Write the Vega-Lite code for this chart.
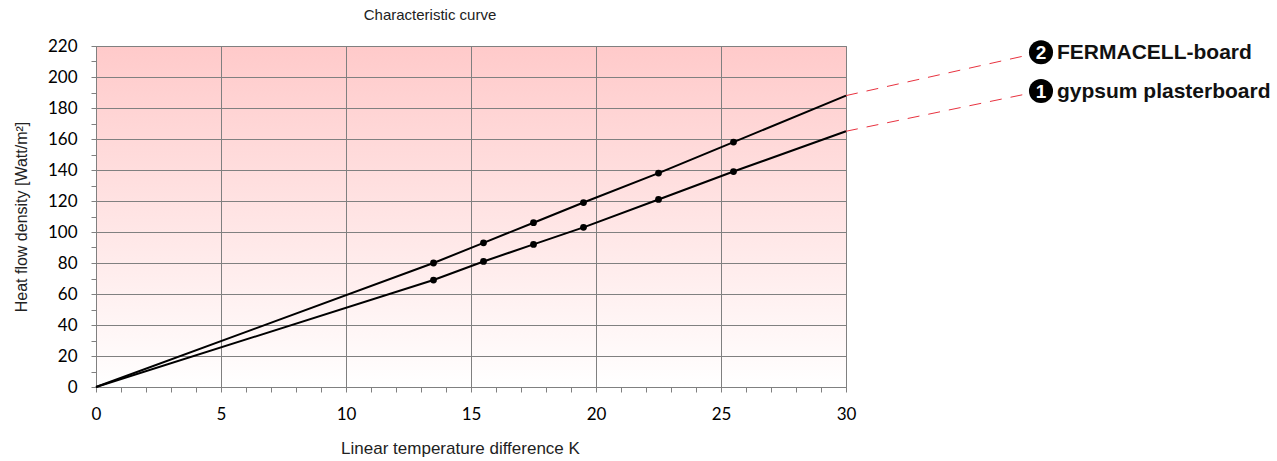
{
  "$schema": "https://vega.github.io/schema/vega-lite/v6.json",
  "width": 750,
  "height": 341,
  "autosize": "none",
  "padding": {"left": 96, "top": 46, "right": 431, "bottom": 74},
  "background": "white",
  "title": {
    "text": "Characteristic curve",
    "frame": "group",
    "anchor": "middle",
    "dx": -41,
    "offset": 14,
    "font": "Liberation Sans Narrow, sans-serif",
    "fontSize": 15,
    "fontWeight": "normal",
    "color": "#222222"
  },
  "config": {
    "view": {
      "stroke": "#808080",
      "strokeWidth": 1,
      "fill": {
        "gradient": "linear",
        "x1": 0, "y1": 0, "x2": 0, "y2": 1,
        "stops": [
          {"offset": 0, "color": "#ffcaca"},
          {"offset": 1, "color": "#ffffff"}
        ]
      }
    },
    "axis": {
      "domainColor": "#808080",
      "tickColor": "#808080",
      "gridColor": "#808080",
      "gridWidth": 1,
      "labelFont": "Lato",
      "labelFontSize": 17,
      "labelColor": "#000000",
      "labelOverlap": false,
      "labelBound": false,
      "labelFlush": false,
      "titleFont": "Liberation Sans Narrow, sans-serif",
      "titleFontSize": 16,
      "titleFontWeight": "normal",
      "titleColor": "#222222"
    }
  },
  "datasets": {
    "curves": [
      {"series": "2", "x": 0, "y": 0, "measured": false},
      {"series": "2", "x": 13.5, "y": 80, "measured": true},
      {"series": "2", "x": 15.5, "y": 93, "measured": true},
      {"series": "2", "x": 17.5, "y": 106, "measured": true},
      {"series": "2", "x": 19.5, "y": 119, "measured": true},
      {"series": "2", "x": 22.5, "y": 138, "measured": true},
      {"series": "2", "x": 25.5, "y": 158, "measured": true},
      {"series": "2", "x": 30, "y": 188, "measured": false},
      {"series": "1", "x": 0, "y": 0, "measured": false},
      {"series": "1", "x": 13.5, "y": 69, "measured": true},
      {"series": "1", "x": 15.5, "y": 81, "measured": true},
      {"series": "1", "x": 17.5, "y": 92, "measured": true},
      {"series": "1", "x": 19.5, "y": 103, "measured": true},
      {"series": "1", "x": 22.5, "y": 121, "measured": true},
      {"series": "1", "x": 25.5, "y": 139, "measured": true},
      {"series": "1", "x": 30, "y": 165, "measured": false}
    ],
    "leaders": [
      {"series": "2", "x": 30, "y": 188},
      {"series": "2", "x": 37.8, "y": 216},
      {"series": "1", "x": 30, "y": 165},
      {"series": "1", "x": 37.8, "y": 191}
    ],
    "labels": [
      {"num": "2", "label": "FERMACELL-board", "x": 37.8, "y": 216},
      {"num": "1", "label": "gypsum plasterboard", "x": 37.8, "y": 191}
    ]
  },
  "encoding": {
    "x": {
      "field": "x",
      "type": "quantitative",
      "scale": {"domain": [0, 30], "nice": false, "zero": false},
      "axis": {
        "title": "Linear temperature difference K",
        "values": [0,1,2,3,4,5,6,7,8,9,10,11,12,13,14,15,16,17,18,19,20,21,22,23,24,25,26,27,28,29,30],
        "labelExpr": "datum.value % 5 === 0 ? datum.label : ''",
        "gridOpacity": {"condition": {"test": "datum.value % 5 === 0", "value": 1}, "value": 0},
        "tickSize": 5,
        "labelPadding": 14,
        "titlePadding": 18,
        "titleFontSize": 17,
        "titleX": 364
      }
    },
    "y": {
      "field": "y",
      "type": "quantitative",
      "scale": {"domain": [0, 220], "nice": false, "zero": false},
      "axis": {
        "title": "Heat flow density [Watt/m²]",
        "values": [0,10,20,30,40,50,60,70,80,90,100,110,120,130,140,150,160,170,180,190,200,210,220],
        "labelExpr": "datum.value % 20 === 0 ? datum.label : ''",
        "gridOpacity": {"condition": {"test": "datum.value % 20 === 0", "value": 1}, "value": 0},
        "tickSize": 5,
        "labelPadding": 14,
        "titlePadding": 18
      }
    }
  },
  "layer": [
    {
      "data": {"name": "curves"},
      "mark": {"type": "line", "color": "#000000", "strokeWidth": 2},
      "encoding": {"detail": {"field": "series"}}
    },
    {
      "data": {"name": "curves"},
      "transform": [{"filter": "datum.measured"}],
      "mark": {"type": "point", "filled": true, "color": "#000000", "size": 46, "opacity": 1}
    },
    {
      "data": {"name": "leaders"},
      "mark": {"type": "line", "color": "#e8323f", "strokeWidth": 1, "strokeDash": [12, 9]},
      "encoding": {"detail": {"field": "series"}}
    },
    {
      "data": {"name": "labels"},
      "mark": {"type": "point", "shape": "circle", "filled": true, "color": "#000000", "size": 580, "opacity": 1}
    },
    {
      "data": {"name": "labels"},
      "mark": {"type": "text", "color": "#ffffff", "font": "Liberation Sans Narrow, sans-serif", "fontWeight": "bold", "fontSize": 19, "align": "center", "baseline": "middle", "dy": 1},
      "encoding": {"text": {"field": "num"}}
    },
    {
      "data": {"name": "labels"},
      "mark": {"type": "text", "color": "#111111", "font": "Liberation Sans Narrow, sans-serif", "fontWeight": "bold", "fontSize": 21, "align": "left", "baseline": "middle", "dx": 16, "dy": 1},
      "encoding": {"text": {"field": "label"}}
    }
  ]
}
